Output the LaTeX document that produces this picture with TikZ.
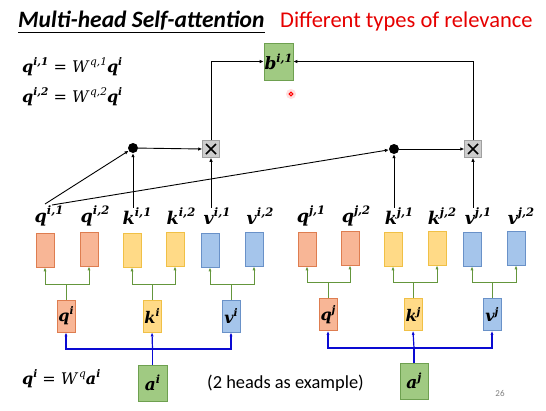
\documentclass[tikz,border=0pt]{standalone}
\usepackage{fontspec}
\setmainfont{Carlito}
\newfontfamily\djs{DejaVu Serif}
\usetikzlibrary{arrows.meta}
\definecolor{qfill}{RGB}{248,182,150}
\definecolor{qdraw}{RGB}{222,125,80}
\definecolor{kfill}{RGB}{255,218,135}
\definecolor{kdraw}{RGB}{240,192,70}
\definecolor{vfill}{RGB}{165,197,235}
\definecolor{vdraw}{RGB}{105,145,200}
\definecolor{afill}{RGB}{160,202,130}
\definecolor{adraw}{RGB}{110,160,80}
\definecolor{tree}{RGB}{100,150,60}
\definecolor{bline}{RGB}{10,10,210}
\definecolor{redtxt}{RGB}{230,0,0}
\definecolor{xfill}{RGB}{205,205,205}
\definecolor{xdraw}{RGB}{160,160,160}
% bold italic letter with superscript: [size]{letter}{sup}
\newcommand{\vl}[3][17.5]{{\djs\bfseries\itshape\fontsize{#1}{#1}\selectfont #2\raisebox{\fpeval{#1*0.42}pt}{\fontsize{\fpeval{#1*0.66}}{\fpeval{#1*0.7}}\selectfont #3}}}
\newcommand{\wl}[3][16]{{\djs\itshape\fontsize{#1}{#1}\selectfont #2\raisebox{\fpeval{#1*0.42}pt}{\fontsize{\fpeval{#1*0.66}}{\fpeval{#1*0.7}}\selectfont\,#3}}}
\newcommand{\eqs}{{\djs\fontsize{16}{18}\selectfont\ =\ }}
\begin{document}
\begin{tikzpicture}[x=1pt,y=-1pt,
  arr/.style={-{Latex[length=4pt,width=3.5pt]},line width=0.9pt,black},
  garr/.style={-{Latex[length=4pt,width=3pt]},line width=1pt,tree},
  barr/.style={-{Latex[length=4pt,width=3pt]},line width=1.2pt,bline},
  hbox/.style={minimum width=18pt,minimum height=34pt,inner sep=0pt,line width=0.6pt},
  qb/.style={hbox,draw=qdraw,fill=qfill},
  kb/.style={hbox,draw=kdraw,fill=kfill},
  vb/.style={hbox,draw=vdraw,fill=vfill},
  sb/.style={minimum width=18pt,minimum height=32pt,inner sep=0pt,line width=0.6pt},
  lab/.style={inner sep=0pt},
  mulbox/.style={draw=xdraw,fill=xfill,minimum size=17pt,inner sep=0pt,line width=0.5pt,
    path picture={\draw[line width=1.7pt,black] ([shift={(-5pt,-5pt)}]path picture bounding box.center) -- ([shift={(5pt,5pt)}]path picture bounding box.center);
    \draw[line width=1.7pt,black] ([shift={(-5pt,5pt)}]path picture bounding box.center) -- ([shift={(5pt,-5pt)}]path picture bounding box.center);}},
  dotn/.style={circle,fill=black,minimum size=10pt,inner sep=0pt}
]
\useasboundingbox (0,0) rectangle (546,410);
\fill[white] (0,0) rectangle (546,410);

% title
\node[inner sep=0pt,anchor=west,font=\fontsize{23.5}{28}\selectfont\bfseries\itshape] (title) at (18,21) {Multi-head Self-attention};
\draw[line width=0.8pt] (title.south west) ++(0,-2pt) coordinate (ul1) -- (ul1 -| title.east);
\node[inner sep=0pt,anchor=west,text=redtxt,font=\fontsize{22.5}{27}\selectfont] (sub) at (280,21) {Different types of relevance};

% equations
\node[lab,anchor=west] (eq1) at (22,67) {\vl[16]{q}{i,1}\eqs\wl{W}{q,1}\vl[16]{q}{i}};
\node[lab,anchor=west] (eq2) at (22,97) {\vl[16]{q}{i,2}\eqs\wl{W}{q,2}\vl[16]{q}{i}};
\node[lab,anchor=west] (eq3) at (22,379) {\vl[16]{q}{i}\eqs\wl{W}{q}\vl[16]{a}{i}};
\node[inner sep=0pt,anchor=west,font=\fontsize{18.4}{22}\selectfont] (note) at (207,383) {(2 heads as example)};
\node[inner sep=0pt,text=gray,font=\fontsize{9}{10}\selectfont] (pg) at (500,393) {26};

% b box
\node[draw=adraw,fill=afill,minimum width=29pt,minimum height=37pt,inner sep=0pt,line width=0.6pt] (b) at (278.5,61.5) {\vl[17]{b}{i,1}};

% laser dot
\fill[red!12] (291,94) circle (5pt);
\draw[red,line width=1pt] (291,94) circle (1.8pt);

% mult boxes and dots
\node[mulbox] (x1) at (211,149) {};
\node[mulbox] (x2) at (473,149) {};
\node[dotn] (d1) at (133,148) {};
\node[dotn] (d2) at (394,149) {};

% head labels
\node[lab] (lqi1) at (49,216) {\vl{q}{i,1}};
\node[lab] (lqi2) at (95,216) {\vl{q}{i,2}};
\node[lab] (lki1) at (137,216) {\vl{k}{i,1}};
\node[lab] (lki2) at (181,216) {\vl{k}{i,2}};
\node[lab] (lvi1) at (217,216) {\vl{v}{i,1}};
\node[lab] (lvi2) at (260,216) {\vl{v}{i,2}};
\node[lab] (lqj1) at (311,216) {\vl{q}{j,1}};
\node[lab] (lqj2) at (356,216) {\vl{q}{j,2}};
\node[lab] (lkj1) at (399,216) {\vl{k}{j,1}};
\node[lab] (lkj2) at (442,216) {\vl{k}{j,2}};
\node[lab] (lvj1) at (478,216) {\vl{v}{j,1}};
\node[lab] (lvj2) at (521,216) {\vl{v}{j,2}};

% head boxes
\node[qb] (qi1) at (45,250) {};
\node[qb] (qi2) at (89,249) {};
\node[kb] (ki1) at (132,250) {};
\node[kb] (ki2) at (175,249) {};
\node[vb] (vi1) at (210,250) {};
\node[vb] (vi2) at (254,249) {};
\node[qb] (qj1) at (307,249) {};
\node[qb] (qj2) at (350,248) {};
\node[kb] (kj1) at (393,249) {};
\node[kb] (kj2) at (437,248) {};
\node[vb] (vj1) at (472,249) {};
\node[vb] (vj2) at (516,248) {};

% single boxes
\node[sb,draw=qdraw,fill=qfill] (qi) at (66,316) {\vl[16]{q}{i}};
\node[sb,draw=kdraw,fill=kfill] (ki) at (152,316) {\vl[16]{k}{i}};
\node[sb,draw=vdraw,fill=vfill] (vi) at (231,316) {\vl[16]{v}{i}};
\node[sb,draw=qdraw,fill=qfill] (qj) at (328,314.5) {\vl[16]{q}{j}};
\node[sb,draw=kdraw,fill=kfill] (kj) at (413,314.5) {\vl[16]{k}{j}};
\node[sb,draw=vdraw,fill=vfill] (vj) at (492,314.5) {\vl[16]{v}{j}};

% a boxes
\node[draw=adraw,fill=afill,minimum width=29pt,minimum height=36pt,inner sep=0pt,line width=0.6pt] (ai) at (152.5,383) {\vl[17]{a}{i}};
\node[draw=adraw,fill=afill,minimum width=28pt,minimum height=36pt,inner sep=0pt,line width=0.6pt] (aj) at (414,381) {\vl[17]{a}{j}};

% green trees
\foreach \s/\l/\r in {qi/qi1/qi2,ki/ki1/ki2,vi/vi1/vi2}{
  \draw[garr] (\s.north) -- ([yshift=15pt]\s.north) -| (\l.south);
  \draw[garr] ([yshift=15pt]\s.north) -| (\r.south);
}
\foreach \s/\l/\r in {qj/qj1/qj2,kj/kj1/kj2,vj/vj1/vj2}{
  \draw[garr] (\s.north) -- ([yshift=16pt]\s.north) -| (\l.south);
  \draw[garr] ([yshift=16pt]\s.north) -| (\r.south);
}

% blue lines
\coordinate (bi) at (152.5,349);
\coordinate (bj) at (414,348);
\draw[line width=1.2pt,bline] (ai.north) -- (bi);
\draw[barr] (bi) -- (ki.south);
\draw[barr] (bi) -| (qi.south);
\draw[barr] (bi) -| (vi.south);
\draw[line width=1.2pt,bline] (aj.north) -- (bj);
\draw[barr] (bj) -- (kj.south);
\draw[barr] (bj) -| (qj.south);
\draw[barr] (bj) -| (vj.south);

% attention arrows
\coordinate (s1) at (45,204);
\coordinate (s2) at (52,205);
\draw[arr] (s1) -- (d1);
\draw[arr] (s2) -- (d2);
\draw[arr] (lki1.north -| d1) -- (d1);
\draw[arr] (lvi1.north -| x1) -- (x1.south);
\draw[arr] (lkj1.north -| d2) -- (d2);
\draw[arr] (lvj1.north -| x2) -- (x2.south);
\draw[arr] (d1) -- (x1.west);
\draw[arr] (d2) -- (x2.west);
\draw[arr] (x1.north) |- (b.west);
\draw[arr] (x2.north) |- (b.east);
\end{tikzpicture}
\end{document}
